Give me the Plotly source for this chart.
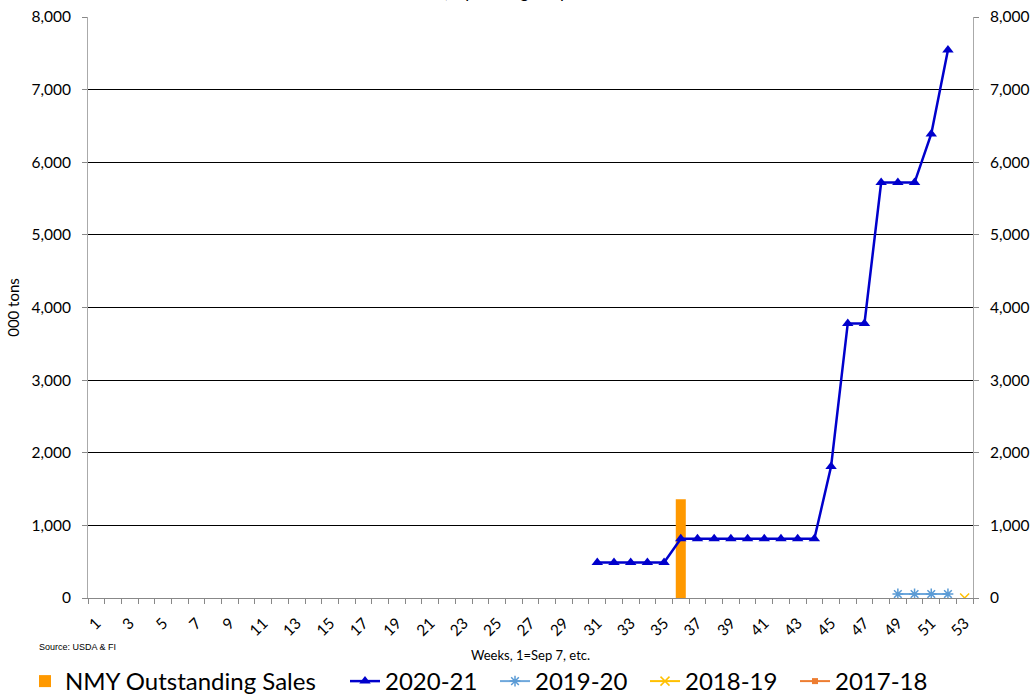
import plotly.graph_objects as go

weeks_2021 = list(range(31, 53))
vals_2021 = [490, 490, 490, 490, 490, 815, 815, 815, 815, 815, 815, 815, 815, 815,
             1810, 3780, 3780, 5720, 5720, 5720, 6390, 7545]
weeks_1920 = [49, 50, 51, 52]
vals_1920 = [55, 55, 55, 55]
weeks_1819 = [53]
vals_1819 = [0]
nmy_weeks = [36]
nmy_vals = [1360]

FONT = "Lato"

fig = go.Figure()
fig.add_trace(go.Bar(x=nmy_weeks, y=nmy_vals, name="NMY Outstanding Sales",
                     marker=dict(color="#FF9900", line=dict(width=0)), width=0.6,
                     legend="legend"))
fig.add_trace(go.Scatter(x=weeks_2021, y=vals_2021, name="2020-21", mode="lines+markers",
                         line=dict(color="#0000CC", width=2.5), legend="legend2",
                         marker=dict(symbol="triangle-up", size=10, color="#0000CC")))
fig.add_trace(go.Scatter(x=weeks_1920, y=vals_1920, name="2019-20", mode="lines+markers",
                         line=dict(color="#6FA8DC", width=2), legend="legend2",
                         marker=dict(symbol="asterisk-open", size=9, color="#5B9BD5",
                                     line=dict(width=1.5, color="#5B9BD5"))))
fig.add_trace(go.Scatter(x=weeks_1819, y=vals_1819, name="2018-19", mode="lines+markers",
                         line=dict(color="#FFC000", width=2), legend="legend2",
                         marker=dict(symbol="x-thin-open", size=9, color="#FFC000",
                                     line=dict(width=1.5, color="#FFC000"))))
fig.add_trace(go.Scatter(x=[None], y=[None], name="2017-18", mode="lines+markers",
                         line=dict(color="#ED7D31", width=2), legend="legend2",
                         marker=dict(symbol="square", size=6, color="#ED7D31")))
fig.add_trace(go.Scatter(x=[None], y=[None], yaxis="y2", showlegend=False, hoverinfo="skip"))

legend_common = dict(orientation="h", y=-0.105, yanchor="top", xanchor="left",
                     font=dict(size=24, family=FONT), itemwidth=30, tracegroupgap=0,
                     bgcolor="rgba(0,0,0,0)")

fig.update_layout(
    width=1034, height=698,
    margin=dict(l=88, r=61, t=17, b=100, autoexpand=False),
    paper_bgcolor="white", plot_bgcolor="white",
    font=dict(family=FONT, color="black", size=14),
    xaxis=dict(range=[0.5, 53.5], tickmode="linear", tick0=1, dtick=2, automargin=False,
               ticks="", tickangle=-45, tickfont=dict(size=15.5), ticklabelstandoff=9,
               showgrid=False, zeroline=False, showline=True, linecolor="#888888", linewidth=1,
               minor=dict(tickmode="linear", tick0=0.5, dtick=1, ticks="outside", ticklen=5,
                          tickcolor="#888888", showgrid=False),
               title=dict(text="Weeks, 1=Sep 7, etc.", font=dict(size=13), standoff=12)),
    yaxis=dict(range=[0, 8000], dtick=1000, tickformat=",d", showgrid=True, gridcolor="black",
               gridwidth=1, zeroline=False, showline=True, linecolor="#AAAAAA", automargin=False,
               ticks="outside", ticklen=5, tickcolor="#888888", tickfont=dict(size=15.5),
               ticklabelstandoff=8,
               title=dict(text="000 tons", font=dict(size=15, family=FONT), standoff=8)),
    yaxis2=dict(range=[0, 8000], dtick=1000, tickformat=",d", overlaying="y", side="right",
                showgrid=False, zeroline=False, showline=True, linecolor="#AAAAAA", automargin=False,
                ticks="outside", ticklen=5, tickcolor="#888888", tickfont=dict(size=15.5),
                ticklabelstandoff=8),
    legend=dict(legend_common, x=-0.0712),
    legend2=dict(legend_common, x=0.2904, entrywidth=105, entrywidthmode="pixels"),
    showlegend=True,
)
fig.add_annotation(text="Source: USDA & FI", xref="paper", yref="paper", x=-0.0575, y=-0.0843,
                   xanchor="left", yanchor="middle", showarrow=False,
                   font=dict(size=9, family="Liberation Sans"))
fig.add_annotation(text="China, Upcoming Crop Year", xref="paper", yref="paper", x=0.47, y=1.0,
                   xanchor="center", yanchor="bottom", yshift=13, showarrow=False,
                   font=dict(size=17, family=FONT))
fig.write_html("out.html", config={"displayModeBar": False},
               post_script="document.body.style.margin='0';")
